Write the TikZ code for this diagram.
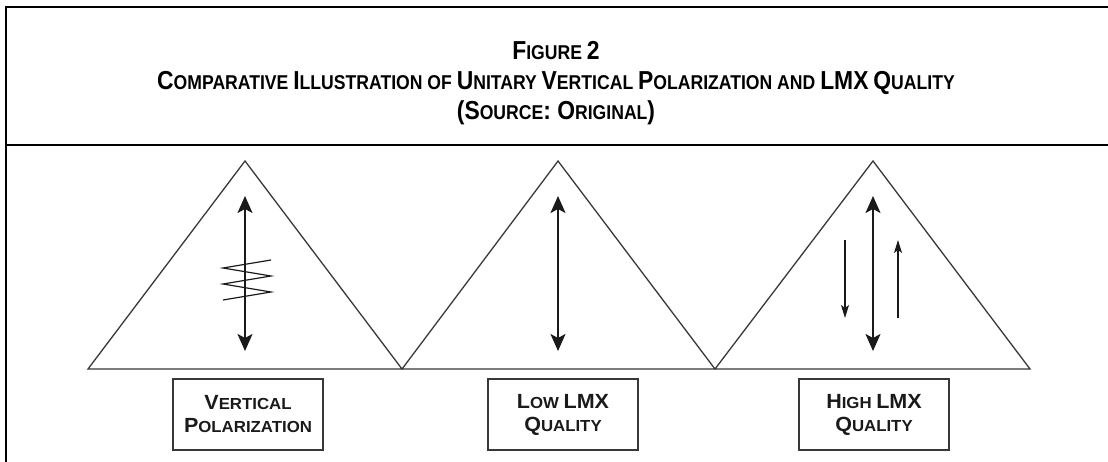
\documentclass[tikz,border=0pt]{standalone}
\usepackage{fontspec}
\setmainfont{Liberation Sans}
\newfontfamily\titlefont[FakeStretch=0.88]{Liberation Sans}
\newfontfamily\labelfont[FakeStretch=1.05]{Liberation Sans}
\usetikzlibrary{arrows.meta}

% fake small caps: large initial, smaller rest
\newcommand\tsc[2]{{\fontsize{26}{30}\selectfont #1}{\fontsize{20}{30}\selectfont #2}}
\newcommand\bsc[2]{{\fontsize{20.5}{23}\selectfont #1}{\fontsize{16}{23}\selectfont #2}}

\definecolor{ink}{HTML}{1A1A1A}
\definecolor{shape}{HTML}{383838}

\tikzset{
  frame/.style={line width=2.5pt, draw=black},
  tri/.style={line width=1.3pt, draw=shape, line join=miter},
  bigarrow/.style={line width=2pt, draw=ink, {Stealth[length=17pt,width=15pt,inset=4pt]}-{Stealth[length=17pt,width=15pt,inset=4pt]}},
  smallarrow/.style={line width=1.1pt, draw=ink, -{Stealth[length=13pt,width=8pt,inset=3pt]}},
  zig/.style={line width=1.2pt, draw=ink, line join=miter},
  labelbox/.style={draw=shape, line width=1.4pt, minimum width=150pt, minimum height=71pt,
    inner sep=0pt, align=center, text=ink,
    font=\labelfont\bfseries\fontsize{16}{23}\selectfont},
  titleline/.style={anchor=base, inner sep=0pt, text=black,
    font=\titlefont\bfseries\fontsize{20}{30}\selectfont},
}

\begin{document}
\begin{tikzpicture}[x=1pt, y=-1pt]
  \useasboundingbox (0,0) rectangle (1108,462);

  % outer frame and title rule
  \draw[frame] (1108,7) -- (6,7) -- (6,462);
  \draw[frame] (6,145) -- (1108,145);

  % title
  \node[titleline] (t1) at (556,60) {\tsc{F}{IGURE} \tsc{2}{}};
  \node[titleline] (t2) at (556,90) {\tsc{C}{OMPARATIVE} \tsc{I}{LLUSTRATION} \tsc{}{OF} \tsc{U}{NITARY} \tsc{V}{ERTICAL} \tsc{P}{OLARIZATION} \tsc{}{AND} \tsc{LMX}{} \tsc{Q}{UALITY}};
  \node[titleline] (t3) at (556,120) {\tsc{(S}{OURCE}\tsc{: O}{RIGINAL}\tsc{)}{}};

  % three triangles on a shared base
  \coordinate (b0) at (88,369);
  \coordinate (b1) at (402,369);
  \coordinate (b2) at (715,369);
  \coordinate (b3) at (1030,369);
  \coordinate (p1) at (245,161);
  \coordinate (p2) at (558,161);
  \coordinate (p3) at (873,161);
  \draw[tri] (b0) -- (p1) -- (b1) -- (p2) -- (b2) -- (p3) -- (b3) -- cycle;

  % vertical polarization: double arrow with zigzag
  \coordinate (a1t) at (245,196);
  \coordinate (a1b) at (245,351);
  \draw[bigarrow] (a1t) -- (a1b);
  \draw[zig] (271,260) -- (223,268) -- (271,276) -- (223,284) -- (271,292) -- (223,300);

  % low LMX quality
  \coordinate (a2t) at (558,196);
  \coordinate (a2b) at (558,351);
  \draw[bigarrow] (a2t) -- (a2b);

  % high LMX quality
  \coordinate (a3t) at (873,196);
  \coordinate (a3b) at (873,351);
  \draw[bigarrow] (a3t) -- (a3b);
  \coordinate (d1) at (845,240);
  \coordinate (d2) at (845,318);
  \draw[smallarrow] (d1) -- (d2);
  \coordinate (u1) at (898,318);
  \coordinate (u2) at (898,240);
  \draw[smallarrow] (u1) -- (u2);

  % labels
  \node[labelbox] (l1) at (248,414.5) {\bsc{V}{ERTICAL}\\\bsc{P}{OLARIZATION}};
  \node[labelbox] (l2) at (563,414.5) {\bsc{L}{OW} \bsc{LMX}{}\\\bsc{Q}{UALITY}};
  \node[labelbox] (l3) at (874,414.5) {\bsc{H}{IGH} \bsc{LMX}{}\\\bsc{Q}{UALITY}};
\end{tikzpicture}
\end{document}
